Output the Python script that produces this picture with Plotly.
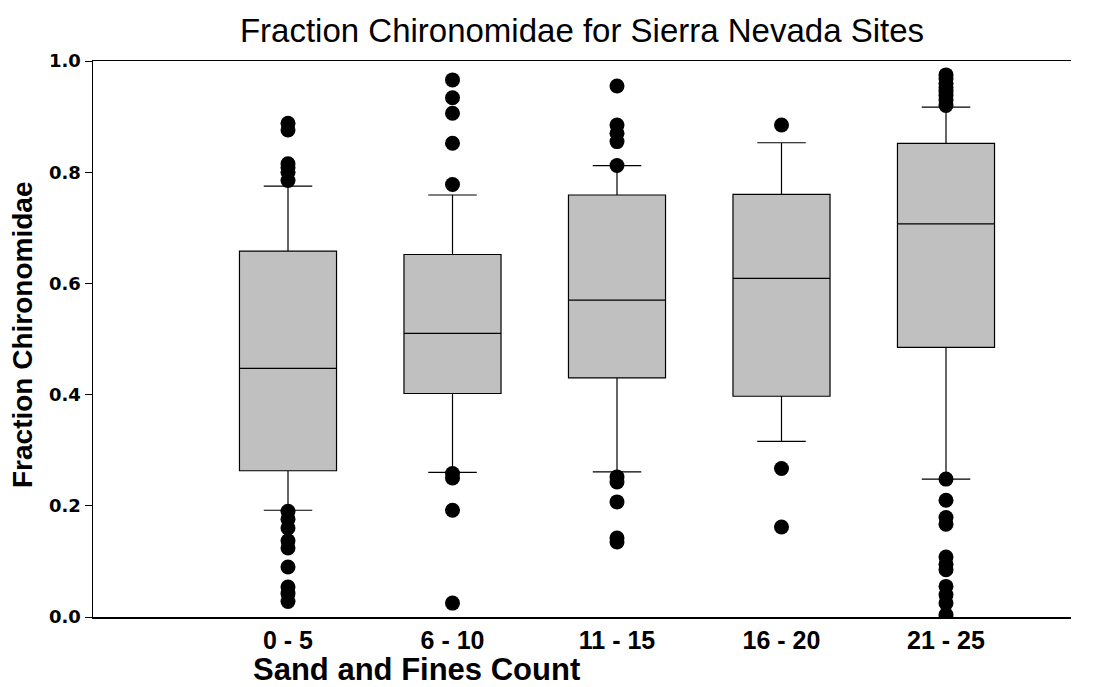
import plotly.graph_objects as go

categories = ["0 - 5", "6 - 10", "11 - 15", "16 - 20", "21 - 25"]
positions = [1, 2, 3, 4, 5]
q1 = [0.263, 0.402, 0.430, 0.397, 0.485]
medians = [0.447, 0.510, 0.570, 0.609, 0.707]
q3 = [0.658, 0.652, 0.759, 0.760, 0.852]
lower_whisker = [0.192, 0.260, 0.261, 0.316, 0.248]
upper_whisker = [0.775, 0.759, 0.812, 0.853, 0.917]

outliers_0_5 = [0.888, 0.876, 0.815, 0.808, 0.800, 0.785,
                0.190, 0.176, 0.160, 0.137, 0.124, 0.090, 0.054, 0.042, 0.028]
outliers_6_10 = [0.966, 0.934, 0.906, 0.852, 0.778, 0.258, 0.250, 0.192, 0.025]
outliers_11_15 = [0.955, 0.885, 0.870, 0.855, 0.812, 0.252, 0.243, 0.207, 0.142, 0.135]
outliers_16_20 = [0.885, 0.267, 0.162]
outliers_21_25 = [0.975, 0.968, 0.960, 0.952, 0.945, 0.938, 0.930, 0.920,
                  0.248, 0.210, 0.179, 0.167, 0.108, 0.095, 0.085, 0.055, 0.040, 0.025, 0.004]
outliers = [outliers_0_5, outliers_6_10, outliers_11_15, outliers_16_20, outliers_21_25]

ytick_vals = [0.0, 0.2, 0.4, 0.6, 0.8, 1.0]
ytick_text = ["0.0", "0.2", "0.4", "0.6", "0.8", "1.0"]

out_x = [positions[i] for i, grp in enumerate(outliers) for _ in grp]
out_y = [v for grp in outliers for v in grp]

fig = go.Figure()
fig.add_trace(go.Box(
    x=positions, q1=q1, median=medians, q3=q3,
    lowerfence=lower_whisker, upperfence=upper_whisker,
    boxpoints=False, width=0.59, whiskerwidth=0.5,
    fillcolor="#C0C0C0", line=dict(color="black", width=1.2),
    showlegend=False, hoverinfo="skip",
))
fig.add_trace(go.Scatter(
    x=out_x, y=out_y, mode="markers",
    marker=dict(color="black", size=15, line=dict(width=0)),
    showlegend=False, hoverinfo="skip",
))

L, R, T, B = 93, 26, 61, 70
W, H = 1097, 687
pw = W - L - R
ph = H - T - B

fig.update_layout(
    template="none",
    width=W, height=H,
    margin=dict(l=L, r=R, t=T, b=B, pad=0),
    paper_bgcolor="white", plot_bgcolor="white",
    font=dict(family="Liberation Sans, Arial, sans-serif", color="black"),
    title=dict(text="Fraction Chironomidae for Sierra Nevada Sites",
               font=dict(family="Liberation Sans, Arial, sans-serif", size=33, color="black"),
               x=(582 - L) / pw, xref="paper", xanchor="center",
               y=1 - 30 / H, yref="container", yanchor="middle"),
    xaxis=dict(range=[1 - (288 - L) / 164.5, 5 + (W - R - 946) / 164.5],
               tickmode="array", tickvals=positions, ticktext=categories,
               showline=True, linecolor="black", linewidth=1.5, mirror=True,
               ticks="", showgrid=False, zeroline=False,
               tickfont=dict(family="Liberation Sans, Arial, sans-serif", size=25, color="black", weight="bold")),
    yaxis=dict(range=[0, 1], tickmode="array", tickvals=ytick_vals, ticktext=ytick_text,
               showline=True, linecolor="black", linewidth=1.5, mirror=False,
               ticks="outside", ticklen=7, tickwidth=1, tickcolor="black",
               showgrid=False, zeroline=False,
               tickfont=dict(family="DejaVu Sans, sans-serif", size=18, color="black", weight="bold")),
    annotations=[
        dict(text="<b>Sand and Fines Count</b>", xref="paper", yref="paper",
             x=(416 - L) / pw, y=-(669 - 617) / ph,
             xanchor="center", yanchor="middle", showarrow=False,
             font=dict(family="Liberation Sans, Arial, sans-serif", size=31, color="black")),
        dict(text="<b>Fraction Chironomidae</b>", xref="paper", yref="paper",
             x=(22 - L) / pw, y=(617 - 335) / ph, textangle=-90,
             xanchor="center", yanchor="middle", showarrow=False,
             font=dict(family="Liberation Sans, Arial, sans-serif", size=28, color="black")),
    ],
)

fig.write_html("out.html", config={"staticPlot": True})
